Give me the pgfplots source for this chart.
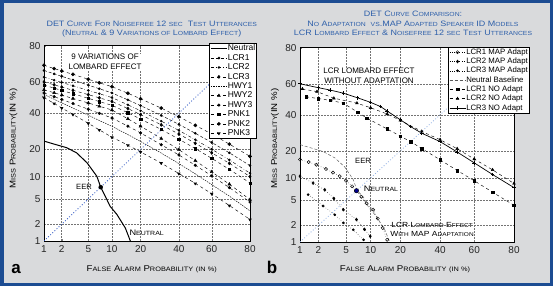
\documentclass[border=0pt]{standalone}
\usepackage{pgfplots}
\usepackage{pgfplotstable}
\pgfplotsset{compat=1.18}
\usepackage{fontspec}
\setmainfont{Liberation Sans}
\newfontfamily\widefont[FakeStretch=1.15]{Liberation Sans}
\definecolor{bordblue}{RGB}{28,76,146}
\definecolor{bggrey}{RGB}{217,218,220}
\definecolor{titleblue}{RGB}{45,95,170}
\definecolor{diagblue}{RGB}{45,85,195}
\definecolor{diaglight}{RGB}{150,180,230}
\makeatletter
\newcommand\sm[1]{{\fontsize{\strip@pt\dimexpr0.76\dimexpr\f@size pt\relax\relax}{1}\selectfont #1}}
\makeatother
\newcommand\probit[1]{%
 \begingroup
 \pgfkeys{/pgf/fpu=true,/pgf/fpu/output format=fixed}%
 \pgfmathparse{(#1)/100}\let\pp\pgfmathresult
 \pgfmathparse{min(\pp,1-\pp)}\let\qq\pgfmathresult
 \pgfmathparse{sqrt(-2*ln(\qq))}\let\myt\pgfmathresult
 \pgfmathparse{\myt-(2.515517+0.802853*\myt+0.010328*\myt*\myt)/(1+1.432788*\myt+0.189269*\myt*\myt+0.001308*\myt*\myt*\myt)}\let\zz\pgfmathresult
 \pgfmathparse{ifthenelse(\pp<0.5,-\zz,\zz)}%
 \xdef\probitresult{\pgfmathresult}%
 \endgroup
 \let\pgfmathresult\probitresult}

\pgfplotstableread{
x    c1   c2   c3   c4   c5   c6   c7   c8   c9
1    70   67   63   60   58   55   53   52   50
1.5  68.1 65.0 61.1 58.2 56.1 53.1 50.6 48.9 46.2
2    66.7 63.5 59.7 56.8 54.6 51.6 48.8 46.6 43.3
3    64.7 61.2 57.6 54.7 52.5 49.4 46.1 43.2 39.2
5    61.7 58.0 54.6 51.9 49.5 46.5 42.5 38.7 33.8
7    59.5 55.7 52.5 49.8 47.4 44.4 39.9 35.5 30.0
10   57   53   50   47.5 45   42   37   32   26
15   52.8 48.5 45.3 42.9 40.2 36.5 32.1 27.4 22.0
20   49.2 44.8 41.5 39.1 36.4 32.1 28.3 23.8 18.9
30   43.2 38.6 35.1 32.9 30.2 25.3 22.2 18.4 14.4
40   37.8 33.2 29.7 27.7 25.0 19.9 17.6 14.2 10.9
50   32.6 28.1 24.7 22.9 20.4 15.3 13.6 10.8 8.2
60   27.7 23.3 20.1 18.5 16.2 11.4 10.2 7.9  5.95
70   22.5 18.5 15.6 14.3 12.2 8.0  7.2  5.5  4.0
80   17   13.5 11   10   8.3  4.9  4.5  3.3  2.4
}\tabA

\pgfplotsset{
 detaxis/.style={
  scale only axis, anchor=south west,
  xmin=1, xmax=80, ymin=1, ymax=80,
  x coord trafo/.code={\probit{##1}},
  y coord trafo/.code={\probit{##1}},
  xtick={1,2,5,10,20,40,60,80},
  xticklabels={1,2,5,10,20,40,60,80},
  ytick={1,2,5,10,20,40,60,80},
  yticklabels={1,2,5,10,20,40,60,80},
  grid=major,
  grid style={dash pattern=on 1.5pt off 1.5pt, black!55, line width=0.45pt},
  axis line style={line width=0.8pt},
  tick align=inside, major tick length=2pt,
  xtick pos=bottom, ytick pos=left,
  tick label style={font=\fontsize{10}{11}\selectfont, text=black!85},
  xticklabel style={yshift=-1pt},
  axis background/.style={fill=white},
  legend cell align=left,
  legend image code/.code={\draw[mark repeat=2,mark phase=2,##1] plot coordinates {(0pt,0pt) (8pt,0pt) (16pt,0pt)};},
  every axis plot/.append style={black, line width=0.45pt, mark options={solid}},
 }
}

\begin{document}
\begin{tikzpicture}[x=1pt,y=1pt]
\useasboundingbox (0,0) rectangle (553,286);
\fill[bordblue] (0,0) rectangle (553,286);
\fill[bggrey] (3.5,3.5) rectangle (549.5,283);

% ---------------- panel a
\begin{axis}[detaxis, at={(44pt,45pt)}, width=206pt, height=195.3pt,
  legend style={at={(1.034,1.014)}, anchor=north east, font=\fontsize{8.5}{9}\selectfont,
   draw=black, line width=0.8pt, fill=white, inner sep=1pt, row sep=0.8pt,
   nodes={inner sep=0.4pt, text height=6.1pt, text depth=1.7pt}}]
\addplot[line width=1pt] coordinates {(1,24) (1.5,22.5) (2.4,20.8) (3.4,18.5) (4.8,14.5) (6.5,10.1) (7.3,7.3) (8.3,5.5) (9.5,3.9) (11.4,2.9) (14.1,1.72) (15.9,1.0)};
\addlegendentry{Neutral}
\addplot[densely dashed, mark=*, mark size=1.1pt] table[x=x,y=c2]{\tabA};
\addlegendentry{LCR1}
\addplot[dashdotted, mark=*, mark size=1.0pt] table[x=x,y=c3]{\tabA};
\addlegendentry{LCR2}
\addplot[dashed, mark=diamond*, mark size=1.6pt] table[x=x,y=c4]{\tabA};
\addlegendentry{LCR3}
\addplot[dash pattern=on 1.5pt off 1pt] table[x=x,y=c8]{\tabA};
\addlegendentry{HWY1}
\addplot[dashed, mark=triangle*, mark size=1.7pt] table[x=x,y=c6]{\tabA};
\addlegendentry{HWY2}
\addplot[dashed, mark=*, mark size=1.3pt] table[x=x,y=c7]{\tabA};
\addlegendentry{HWY3}
\addplot[dashed, mark=square*, mark size=1.2pt] table[x=x,y=c5]{\tabA};
\addlegendentry{PNK1}
\addplot[dashed, mark=*, mark size=1.6pt] table[x=x,y=c1]{\tabA};
\addlegendentry{PNK2}
\addplot[dashed, mark=triangle*, mark size=1.7pt, mark options={rotate=180}] table[x=x,y=c9]{\tabA};
\addlegendentry{PNK3}
\addplot[diagblue, line width=0.8pt, dash pattern=on 0.9pt off 2pt, forget plot] coordinates {(1,1) (80,80)};
\addplot[only marks, mark=*, mark size=2pt, forget plot] coordinates {(7.3,7.3)};
\end{axis}

% ---------------- panel b
\begin{axis}[detaxis, at={(300pt,44pt)}, width=214pt, height=194.3pt,
  legend style={at={(1.073,1.005)}, anchor=north east, font=\fontsize{7.8}{8.5}\selectfont,
   draw=black, line width=0.8pt, fill=white, inner sep=1pt, row sep=1.1pt,
   nodes={inner sep=0.4pt, text height=5.8pt, text depth=1.6pt}}]
\addplot[dotted, mark=o, mark size=1.6pt] coordinates {(1,16.3) (1.4,15.3) (1.86,14.3) (2.6,12.8) (3.3,11.6) (4.1,10.5) (5,9.2) (6,7.8) (6.8,6.8) (7.8,5.6) (9,4.5) (10.7,3.6) (12,2.6) (13.5,1.8) (15,1.1)};
\addlegendentry{LCR1 MAP Adapt}
\addplot[dotted, mark=diamond*, mark size=1.5pt] coordinates {(1,10.5) (1.65,8.6) (2.5,7) (3.4,5.3) (4.6,3.6) (6.8,2.5) (8.5,1.7) (9.9,1.28)};
\addlegendentry{LCR2 MAP Adapt}
\addplot[dotted, mark=*, mark size=1.1pt] coordinates {(1.37,6) (2.36,4.1) (3.5,3) (4.6,2.2) (6.2,1.67) (8.3,1.1)};
\addlegendentry{LCR3 MAP Adapt}
\addplot[densely dashed, gray!70!black] coordinates {(1,23) (2.36,19.7) (3.5,17) (4.8,13.5) (6.2,9.5) (6.9,6.9) (8.3,5.5) (9.5,3.9) (11.4,2.9) (14.1,1.72) (15.9,1.0)};
\addlegendentry{Neutral Baseline}
\addplot[dashed, mark=square*, mark size=1.3pt] coordinates {(1.27,51.6) (2,50.5) (3,49.3) (4.6,47.5) (7,41.7) (9.1,37.9) (15,31.4) (20,27.4) (24.5,24.5) (30,21.1) (40,16.2) (50,12.3) (60,9.2) (70,6.5) (80,4.2)};
\addlegendentry{LCR1 NO Adapt}
\addplot[dashed, mark=triangle*, mark size=1.6pt] coordinates {(1.1,56.7) (1.9,55) (3.4,50.7) (6.9,47.5) (10,44.5) (15,40.5) (20,36.5) (30,30) (40,25.5) (50,21) (60,16.5) (70,12.5) (80,8.5)};
\addlegendentry{LCR2 NO Adapt}
\addplot[line width=0.7pt, mark=+, mark size=1.8pt] coordinates {(1,60) (2,57.5) (3,56) (4.6,54) (7,51) (10,48) (12.8,45.3) (15,42.4) (20,36.9) (24.5,32.8) (30,29) (40,24.5) (50,19.5) (60,15) (70,11) (80,7.5)};
\addlegendentry{LCR3 NO Adapt}
\addplot[diaglight, line width=0.8pt, dash pattern=on 0.9pt off 2pt, forget plot] coordinates {(1,1) (80,80)};
\addplot[only marks, mark=*, mark size=2.2pt, mark options={fill=blue!55!black, draw=black}, forget plot] coordinates {(6.8,6.8)};
\end{axis}

% ---------------- texts
\def\tf{\widefont\fontsize{7.8}{8}\selectfont}
\node[titleblue, font=\tf] at (151.7,262.3) {DET C\sm{URVE} F\sm{OR} N\sm{OISEFREE} 12 \sm{SEC}\ \ T\sm{EST} U\sm{TTERANCES}};
\node[titleblue, font=\tf] at (151.7,252.7) {(N\sm{EUTRAL} \& 9 V\sm{ARIATIONS OF} L\sm{OMBARD} E\sm{FFECT})};
\node[titleblue, font=\tf] at (413,271.7) {DET C\sm{URVE} C\sm{OMPARISON}:};
\node[titleblue, font=\tf] at (413,262.3) {N\sm{O} A\sm{DAPTATION}\ \ \sm{VS}.MAP A\sm{DAPTED} S\sm{PEAKER} ID M\sm{ODELS}};
\node[titleblue, font=\tf] at (413,252.7) {LCR L\sm{OMBARD} E\sm{FFECT} \& N\sm{OISEFREE} 12 \sm{SEC} T\sm{EST} U\sm{TTERANCES}};

\node[font=\fontsize{8}{10}\selectfont, align=center, fill=white, inner sep=0.6pt] at (105,224) {9 VARIATIONS OF\\LOMBARD EFFECT};
\node[font=\fontsize{7.6}{8}\selectfont] at (84,98.7) {EER};
\node[font=\widefont\fontsize{8}{8}\selectfont] at (146.7,53.7) {N\sm{EUTRAL}};

\node[font=\fontsize{8}{10}\selectfont, align=center, fill=white, inner sep=0.6pt] at (369,210) {LCR LOMBARD EFFECT\\WITHOUT ADAPTATION};
\node[font=\fontsize{7.6}{8}\selectfont] at (363,124.7) {EER};
\node[font=\widefont\fontsize{8}{8}\selectfont] at (381,97) {N\sm{EUTRAL}};
\node[font=\widefont\fontsize{7.4}{9}\selectfont, align=center] at (432,57) {LCR L\sm{OMBARD} E\sm{FFECT}\\W\sm{ITH} MAP A\sm{DAPTATION}};

\node[font=\widefont\fontsize{8.4}{9}\selectfont] at (151.7,16.3) {F\sm{ALSE} A\sm{LARM} P\sm{ROBABILITY} \sm{(IN \%)}};
\node[font=\widefont\fontsize{8.4}{9}\selectfont] at (405,16.3) {F\sm{ALSE} A\sm{LARM} P\sm{ROBABILITY} \sm{(IN \%)}};
\node[font=\widefont\fontsize{8.4}{9}\selectfont, rotate=90] at (13.5,147.5) {M\sm{ISS} P\sm{ROBABILITY}(IN \%)};
\node[font=\widefont\fontsize{8.4}{9}\selectfont, rotate=90] at (275,147.5) {M\sm{ISS} P\sm{ROBABILITY}(IN \%)};

\node[font=\fontsize{17}{18}\selectfont\bfseries] at (16,17) {a};
\node[font=\fontsize{17}{18}\selectfont\bfseries] at (272,19) {b};
\end{tikzpicture}
\end{document}
